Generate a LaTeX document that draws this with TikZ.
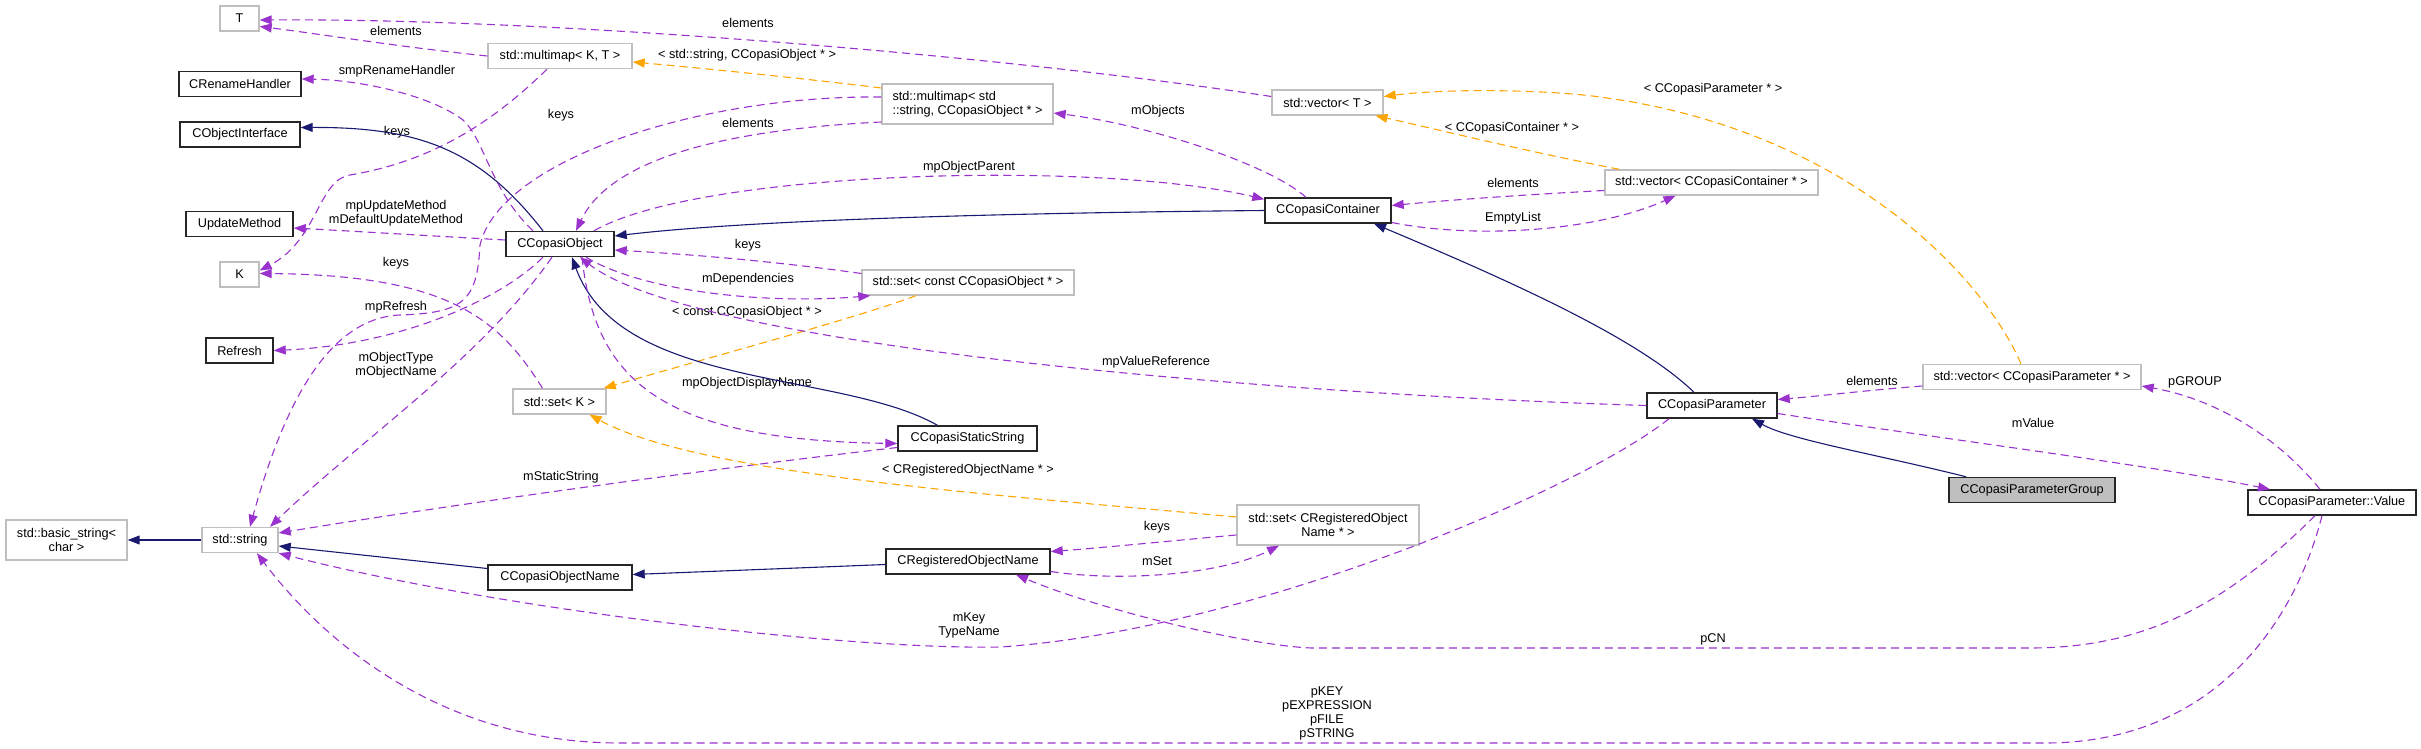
\documentclass[tikz,border=0pt]{standalone}
\usepackage{fontspec}
\setmainfont{Liberation Sans}
\usetikzlibrary{arrows.meta,calc}
\definecolor{depc}{HTML}{9A32CD}
\definecolor{tmplc}{HTML}{FFA500}
\definecolor{inhc}{HTML}{191970}
\definecolor{extc}{HTML}{BFBFBF}
\begin{document}
\begin{tikzpicture}[x=1pt,y=-1pt,
  every node/.style={font=\fontsize{12.7}{14}\selectfont, inner sep=0pt},
  box/.style={draw=black!85, line width=1.4pt, fill=white, minimum height=25pt},
  xbox/.style={draw=extc, line width=1.4pt, fill=white, minimum height=25pt},
  usage/.style={draw=depc, line width=1.1pt, dash pattern=on 8pt off 5pt, -{Triangle[length=12pt,width=9pt]}},
  tmplt/.style={draw=tmplc, line width=1.1pt, dash pattern=on 8pt off 5pt, -{Triangle[length=12pt,width=9pt]}},
  inherit/.style={draw=inhc, line width=1.1pt, -{Triangle[length=12pt,width=9pt]}}
]
\useasboundingbox (0,0) rectangle (2421,749);

% nodes
\node[xbox, minimum width=39pt] (T) at (239.5,18.5) {T};
\node[box, minimum width=122pt] (CRH) at (240,84) {CRenameHandler};
\node[box, minimum width=120pt] (COI) at (240,134.5) {CObjectInterface};
\node[box, minimum width=107pt] (UM) at (239.5,224) {UpdateMethod};
\node[xbox, minimum width=39pt] (K) at (239.5,274.5) {K};
\node[box, minimum width=67pt] (RF) at (239.5,350.5) {Refresh};
\node[xbox, minimum width=76pt] (SS) at (240,540) {std::string};
\node[xbox, minimum width=121pt, minimum height=40pt, align=center] (BS) at (66.5,540) {std::basic\_string<\\char >};
\node[xbox, minimum width=144pt] (MKT) at (560,56) {std::multimap< K, T >};
\node[box, minimum width=108pt] (CO) at (560,244) {CCopasiObject};
\node[xbox, minimum width=93pt] (SK) at (559.5,401.5) {std::set< K >};
\node[box, minimum width=144pt] (CON) at (560,577.5) {CCopasiObjectName};
\node[xbox, minimum width=171pt, minimum height=40pt, align=left] (MSC) at (967.5,104) {std::multimap< std\\::string, CCopasiObject * >};
\node[xbox, minimum width=212pt] (SCO) at (968,282.5) {std::set< const CCopasiObject * >};
\node[box, minimum width=139pt] (CSS) at (967.5,438.5) {CCopasiStaticString};
\node[box, minimum width=164pt] (CRON) at (968,561.5) {CRegisteredObjectName};
\node[xbox, minimum width=111pt] (VT) at (1327.5,102.5) {std::vector< T >};
\node[box, minimum width=126pt] (CC) at (1328,210.5) {CCopasiContainer};
\node[xbox, minimum width=182pt, minimum height=40pt, align=center] (SCRON) at (1328,525) {std::set< CRegisteredObject\\Name * >};
\node[xbox, minimum width=213pt] (VCCC) at (1711.5,182.5) {std::vector< CCopasiContainer * >};
\node[box, minimum width=130pt] (CP) at (1712,405.5) {CCopasiParameter};
\node[xbox, minimum width=218pt] (VCP) at (2032,377) {std::vector< CCopasiParameter * >};
\node[box, fill=extc, minimum width=166pt] (CPG) at (2032,490) {CCopasiParameterGroup};
\node[box, minimum width=168pt] (VAL) at (2332,502.5) {CCopasiParameter::Value};

% edge labels
\node (l1) at (396,31) {elements};
\node (l2) at (748,23) {elements};
\node (l3) at (747,55) {< std::string, CCopasiObject * >};
\node (l4) at (397,132) {keys};
\node (l5) at (561,115) {keys};
\node (l6) at (748,123) {elements};
\node (l7) at (1158,111) {mObjects};
\node (l9) at (969,167) {mpObjectParent};
\node (l10) at (748,245) {keys};
\node (l11) at (748,279) {mDependencies};
\node (l12) at (747,312) {< const CCopasiObject * >};
\node (l14) at (747,383) {mpObjectDisplayName};
\node (l15) at (1156,362) {mpValueReference};
\node (l16) at (561,477) {mStaticString};
\node (l17) at (968,470) {< CRegisteredObjectName * >};
\node (l21) at (1157,527) {keys};
\node (l22) at (1157,561) {mSet};
\node[align=center] (l23) at (969,625) {mKey\\TypeName};
\node (l24) at (1872,381) {elements};
\node (l27) at (2033,423) {mValue};
\node (l28) at (2195,382) {pGROUP};
\node (l29) at (1713,639) {pCN};
\node[align=center] (l30) at (1327,713) {pKEY\\pEXPRESSION\\pFILE\\pSTRING};
\node (l32) at (397,71) {smpRenameHandler};
\node[align=center] (l33) at (396,213) {mpUpdateMethod\\mDefaultUpdateMethod};
\node (l34) at (396,307) {mpRefresh};
\node[align=center] (l35) at (396,365) {mObjectType\\mObjectName};
\node (l36) at (396,263) {keys};
\node (l37) at (1513,218) {EmptyList};
\node (l38) at (1513,183) {elements};
\node (l39) at (1512,128) {< CCopasiContainer * >};
\node (l40) at (1713,89) {< CCopasiParameter * >};

% edges
\draw[usage] (MKT.west) .. controls (400,47) and (320,34) .. ($(T.east)+(0,8)$);
\draw[usage] ($(VT.west)+(0,-6)$) .. controls (1000,55) and (550,18) .. ($(T.east)+(0,1.5)$);
\draw[tmplt] ($(MSC.west)+(0,-16)$) .. controls (800,78) and (700,68) .. ($(MKT.east)+(0,6)$);
\draw[usage] ($(MKT.south)+(-13,0)$) .. controls (500,115) and (440,160) .. (350,175) .. controls (318,180) and (318,240) .. ($(K.east)+(0,-4)$);
\draw[usage] ($(MSC.west)+(0,-7)$) .. controls (700,95) and (500,160) .. (480,245) .. controls (477,300) and (465,313) .. (400,315) .. controls (330,318) and (285,400) .. ($(SS.north)+(10,0)$);
\draw[usage] ($(MSC.west)+(0,18)$) .. controls (720,130) and (610,160) .. ($(CO.north)+(16,0)$);
\draw[usage] ($(CC.north)+(-22,0)$) .. controls (1270,165) and (1150,125) .. ($(MSC.east)+(0,9)$);
\draw[inherit] (CC.west) .. controls (1000,213) and (750,220) .. ($(CO.east)+(0,-8)$);
\draw[usage] ($(CO.north)+(34,0)$) .. controls (700,170) and (1100,160) .. ($(CC.north west)+(0,2)$);
\draw[usage] ($(SCO.west)+(0,-9)$) .. controls (780,262) and (700,255) .. ($(CO.east)+(0,6)$);
\draw[usage] ($(CO.south)+(26,0)$) .. controls (640,290) and (760,305) .. ($(SCO.south west)+(9,0)$);
\draw[tmplt] ($(SCO.south)+(-52,0)$) .. controls (850,320) and (700,360) .. ($(SK.north east)+(-3,0)$);
\draw[inherit] ($(CSS.north)+(-30,0)$) .. controls (840,370) and (620,390) .. ($(CO.south)+(12,0)$);
\draw[usage] ($(CO.south)+(22,0)$) .. controls (595,380) and (660,440) .. ($(CSS.west)+(0,5)$);
\draw[usage] (CP.west) .. controls (1300,395) and (700,350) .. ($(CO.south)+(20,0)$);
\draw[usage] ($(CSS.west)+(0,9)$) .. controls (700,470) and (450,505) .. ($(SS.east)+(0,-7)$);
\draw[tmplt] ($(SCRON.west)+(0,-8)$) .. controls (1000,495) and (700,475) .. ($(SK.south)+(30,0)$);
\draw[inherit] (SS.west) -- (BS.east);
\draw[inherit] ($(CON.west)+(0,-9)$) -- ($(SS.east)+(0,6)$);
\draw[inherit] ($(CRON.west)+(0,3)$) -- ($(CON.east)+(0,-3)$);
\draw[usage] ($(SCRON.west)+(0,10)$) .. controls (1180,540) and (1100,548) .. ($(CRON.east)+(0,-10)$);
\draw[usage] ($(CRON.east)+(0,10)$) .. controls (1120,582) and (1220,575) .. ($(SCRON.south)+(-49,0)$);
\draw[usage] ($(CP.south)+(-43,0)$) .. controls (1580,490) and (1250,630) .. (1000,647) .. controls (850,650) and (500,610) .. (SS.south east);
\draw[usage] ($(VCP.west)+(0,9)$) .. controls (1870,390) and (1820,396) .. ($(CP.east)+(0,-6)$);
\draw[inherit] ($(CPG.north)+(-66,0)$) .. controls (1880,455) and (1790,440) .. ($(CP.south)+(40,0)$);
\draw[inherit] ($(CP.north)+(-18,0)$) .. controls (1640,340) and (1520,285) .. ($(CC.south)+(46,0)$);
\draw[usage] ($(CP.east)+(0,8)$) .. controls (1950,440) and (2150,465) .. ($(VAL.north)+(-62,0)$);
\draw[usage] ($(VAL.north)+(-12,0)$) .. controls (2280,440) and (2220,400) .. ($(VCP.east)+(0,9)$);
\draw[usage] ($(VAL.south)+(-17,0)$) .. controls (2230,600) and (2150,648) .. (2030,648) -- (1312,648) .. controls (1250,646) and (1100,610) .. ($(CRON.south)+(48,0)$);
\draw[usage] ($(VAL.south)+(-10,0)$) .. controls (2290,640) and (2200,743) .. (2045,743) -- (620,743) .. controls (450,743) and (330,650) .. ($(SS.south)+(17,0)$);
\draw[inherit] ($(CO.north)+(-17,0)$) .. controls (480,150) and (420,127) .. ($(COI.east)+(0,-7)$);
\draw[usage] ($(CO.north)+(-27,0)$) .. controls (490,190) and (485,140) .. (463,120) .. controls (430,95) and (360,80) .. ($(CRH.east)+(0,-5)$);
\draw[usage] ($(CO.west)+(0,-4)$) .. controls (450,237) and (350,231) .. ($(UM.east)+(0,4)$);
\draw[usage] ($(CO.south)+(-17,0)$) .. controls (500,300) and (400,345) .. (RF.east);
\draw[usage] ($(CO.south)+(-8,0)$) .. controls (480,360) and (360,440) .. ($(SS.north)+(30,0)$);
\draw[usage] ($(SK.north)+(-17,0)$) .. controls (500,320) and (450,275) .. ($(K.east)+(0,-1)$);
\draw[usage] ($(CC.east)+(0,12)$) .. controls (1480,240) and (1600,230) .. ($(VCCC.south)+(-36,0)$);
\draw[usage] ($(VCCC.west)+(0,8)$) .. controls (1520,195) and (1450,200) .. ($(CC.east)+(0,-5)$);
\draw[tmplt] ($(VCCC.north west)+(15,0)$) .. controls (1520,150) and (1440,130) .. ($(VT.south)+(48,0)$);
\draw[tmplt] ($(VCP.north)+(-11,0)$) .. controls (1985,280) and (1850,130) .. (1600,97) .. controls (1550,90) and (1450,88) .. ($(VT.east)+(0,-6)$);
\end{tikzpicture}
\end{document}
